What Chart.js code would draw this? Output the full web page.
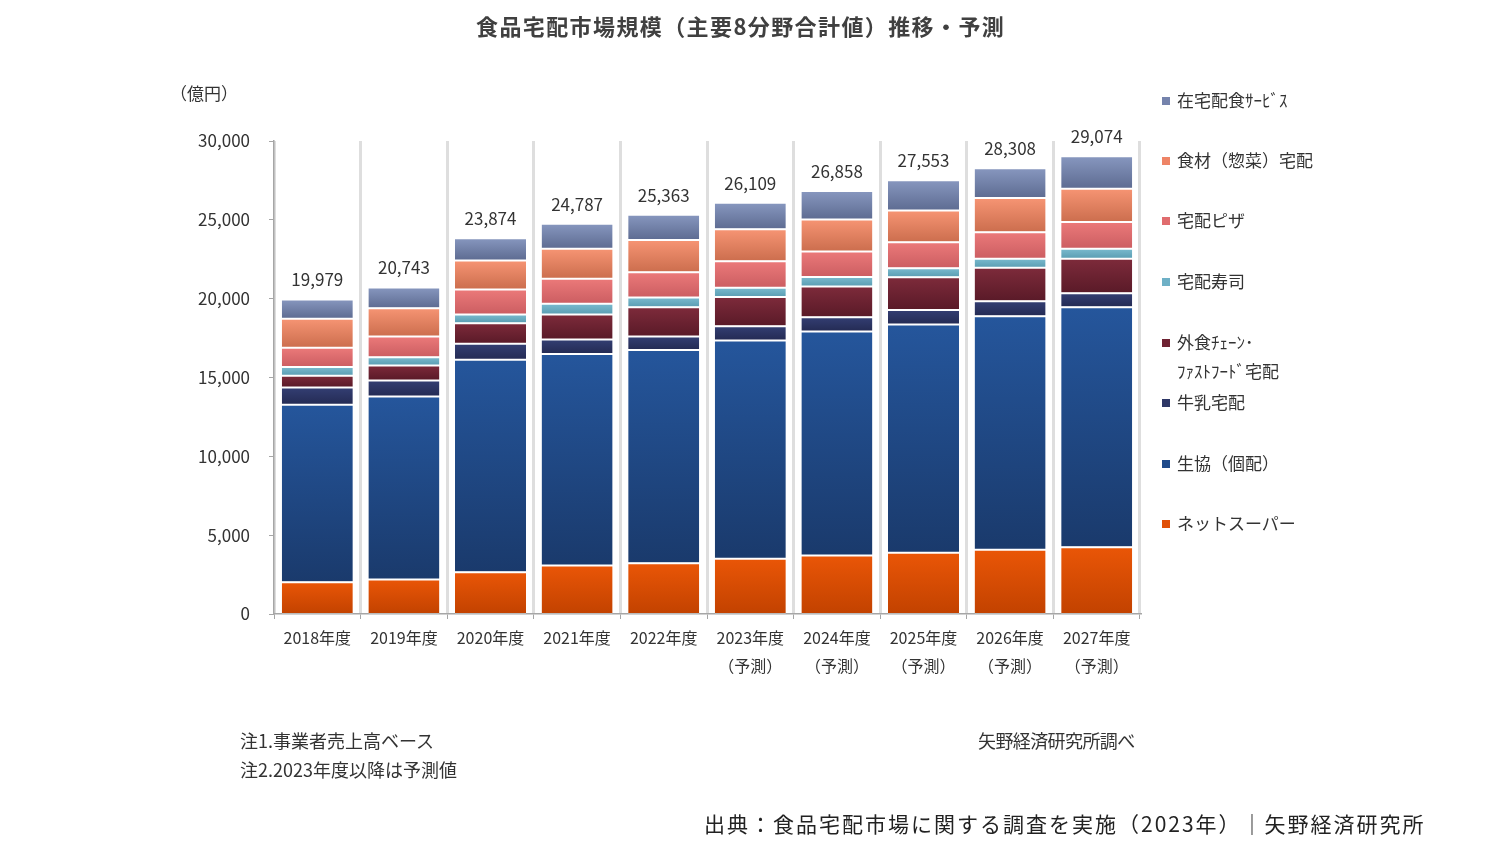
<!DOCTYPE html>
<html lang="ja">
<head>
<meta charset="utf-8">
<script src="https://cdn.jsdelivr.net/npm/chart.js@4.4.1/dist/chart.umd.min.js"></script>
<style>
  html, body { margin: 0; padding: 0; background: #ffffff; }
  body { width: 1500px; height: 846px; position: relative; overflow: hidden;
         font-family: "Noto Sans CJK JP", "Noto Sans", sans-serif; color: #333; }
  #wrap { position: absolute; left: 0; top: 0; width: 1500px; height: 846px; }
  .txt { position: absolute; white-space: nowrap; }
  #title { left: 476px; top: 9px; font-size: 22px; letter-spacing: 1.4px; font-weight: bold; color: #404040; }
  #unit { left: 170px; top: 80px; font-size: 17px; color: #333; }
  #legend { position: absolute; left: 1162px; top: 0; }
  .li { position: absolute; left: 0; font-size: 17px; color: #333; white-space: nowrap; line-height: 20px; }
  .sw { display: inline-block; width: 8px; height: 8px; margin-right: 7px; vertical-align: 2px; }
  .note { font-size: 18px; color: #333; }
  #src { left: 704px; top: 808px; font-size: 21px; letter-spacing: 2px; color: #222; }
</style>
</head>
<body>
<div id="wrap"><canvas id="c" width="1500" height="846"></canvas></div>
<div class="txt" id="title">食品宅配市場規模（主要8分野合計値）推移・予測</div>
<div class="txt" id="unit">（億円）</div>
<div id="legend"></div>
<div class="txt note" style="left:240px; top:727px;">注1.事業者売上高ベース</div>
<div class="txt note" style="left:240px; top:756px;">注2.2023年度以降は予測値</div>
<div class="txt note" style="left:978px; top:727px; letter-spacing:-0.6px;">矢野経済研究所調べ</div>
<div class="txt" id="src">出典：食品宅配市場に関する調査を実施（2023年）｜矢野経済研究所</div>
<script>
// ---- data (億円) ----
const categories = [
  ['2018年度'], ['2019年度'], ['2020年度'], ['2021年度'], ['2022年度'],
  ['2023年度', '（予測）'], ['2024年度', '（予測）'], ['2025年度', '（予測）'],
  ['2026年度', '（予測）'], ['2027年度', '（予測）']
];
const netSuper   = [2050, 2220, 2680, 3100, 3250, 3530, 3740, 3910, 4100, 4270];
const seikyo     = [11250, 11610, 13470, 13430, 13530, 13850, 14210, 14480, 14820, 15220];
const milk       = [1100, 1010, 1020, 910, 860, 910, 910, 930, 950, 890];
const gaishoku   = [740, 950, 1310, 1590, 1840, 1840, 1950, 2070, 2120, 2180];
const sushi      = [550, 530, 550, 680, 630, 600, 590, 570, 570, 640];
const pizza      = [1230, 1310, 1590, 1590, 1590, 1670, 1630, 1650, 1690, 1690];
const shokuzai   = [1840, 1800, 1840, 1900, 2050, 2030, 2030, 2010, 2160, 2120];
const zaitaku    = [1220, 1310, 1410, 1590, 1610, 1680, 1800, 1930, 1900, 2060];
const totals     = [19979, 20743, 23874, 24787, 25363, 26109, 26858, 27553, 28308, 29074];
const yTicks     = [0, 5000, 10000, 15000, 20000, 25000, 30000];

// series bottom → top
const series = [
  { label: 'ネットスーパー', data: netSuper, c1: '#EA5607', c2: '#C24200' },
  { label: '生協（個配）', data: seikyo, c1: '#25569C', c2: '#1A3A6C' },
  { label: '牛乳宅配', data: milk, c1: '#343F74', c2: '#242B54' },
  { label: '外食ﾁｪｰﾝ･\nﾌｧｽﾄﾌｰﾄﾞ宅配', data: gaishoku, c1: '#7E2B3B', c2: '#5A1A28' },
  { label: '宅配寿司', data: sushi, c1: '#7CBCD0', c2: '#5B9EB3' },
  { label: '宅配ピザ', data: pizza, c1: '#EC7A7A', c2: '#CC5E62' },
  { label: '食材（惣菜）宅配', data: shokuzai, c1: '#F79574', c2: '#CC6E4E' },
  { label: '在宅配食ｻｰﾋﾞｽ', data: zaitaku, c1: '#8898C0', c2: '#5E6C92' }
];
const legendColors = ['#E05008', '#1F4A8A', '#2E3766', '#6E2232', '#6EB0C6', '#E06C6E', '#EE8466', '#7583AC'];

const FONT = '"Noto Sans CJK JP", "Noto Sans", sans-serif';

function segGradient(ctx, si) {
  const chart = ctx.chart;
  const area = chart.chartArea;
  const s = series[si];
  if (!area || ctx.type !== 'data') return s.c1;
  const i = ctx.dataIndex;
  let start = 0;
  for (let k = 0; k < si; k++) start += series[k].data[i];
  const end = start + s.data[i];
  const y = chart.scales.y;
  const yTop = y.getPixelForValue(end), yBot = y.getPixelForValue(start);
  if (!isFinite(yTop) || !isFinite(yBot) || yTop === yBot) return s.c1;
  const g = chart.ctx.createLinearGradient(0, yTop, 0, yBot);
  g.addColorStop(0, s.c1);
  g.addColorStop(1, s.c2);
  return g;
}

const totalLabels = {
  id: 'totalLabels',
  afterDatasetsDraw(chart) {
    const meta = chart.getDatasetMeta(series.length - 1);
    const ctx = chart.ctx;
    ctx.save();
    ctx.font = '17px ' + FONT;
    ctx.fillStyle = '#333';
    ctx.textAlign = 'center';
    ctx.textBaseline = 'middle';
    meta.data.forEach((bar, i) => {
      ctx.fillText(totals[i].toLocaleString('en-US'), bar.x, bar.y - 19);
    });
    ctx.restore();
  }
};

const chart = new Chart(document.getElementById('c'), {
  type: 'bar',
  data: {
    labels: categories,
    datasets: series.map((s, si) => ({
      label: s.label,
      data: s.data,
      backgroundColor: (ctx) => segGradient(ctx, si),
      borderColor: 'rgba(255,255,255,0.9)',
      borderWidth: { top: 1.5, bottom: 0.5, left: 0, right: 0 },
      borderSkipped: false,
      barPercentage: 0.82,
      categoryPercentage: 1.0
    }))
  },
  options: {
    responsive: false,
    animation: false,
    layout: { padding: { left: 170, right: 360, top: 141, bottom: 162 } },
    plugins: { legend: { display: false }, tooltip: { enabled: false } },
    scales: {
      x: {
        stacked: true,
        offset: true,
        border: { display: true, color: '#A6A6A6', width: 1.5 },
        grid: { display: true, offset: true, drawOnChartArea: true, drawTicks: true, tickLength: 5,
                color: '#DEDEDE', lineWidth: 3, tickColor: '#A6A6A6', tickWidth: 1 },
        ticks: { color: '#333', font: { family: FONT, size: 16, lineHeight: 1.75 }, padding: 5, maxRotation: 0, autoSkip: false },
        afterFit(scale) { scale.height = 70; }
      },
      y: {
        stacked: true,
        min: 0, max: 30000,
        afterBuildTicks(scale) { scale.ticks = yTicks.map(v => ({ value: v })); },
        border: { display: true, color: '#A6A6A6', width: 1.5 },
        grid: { drawOnChartArea: false, drawTicks: true, tickLength: 5, tickColor: '#A6A6A6' },
        ticks: { color: '#333', font: { family: FONT, size: 17 }, padding: 19,
                 callback: (v) => Number(v).toLocaleString('en-US') },
        afterFit(scale) { scale.width = 104; }
      }
    }
  },
  plugins: [totalLabels]
});

// HTML legend (top → bottom order as in reference)
const legendTops = [90, 150, 210, 271, 332, 392, 453, 513];
const legend = document.getElementById('legend');
const order = [7, 6, 5, 4, 3, 2, 1, 0];
order.forEach((si, k) => {
  const s = series[si];
  const lines = s.label.split('\n');
  const d = document.createElement('div');
  d.className = 'li';
  d.style.top = legendTops[k] + 'px';
  let html = '<span class="sw" style="background:' + legendColors[si] + '"></span>' + lines[0];
  if (lines.length > 1) html += '<br><span style="display:inline-block;margin-top:9px;margin-left:15px;">' + lines[1] + '</span>';
  d.innerHTML = html;
  legend.appendChild(d);
});
</script>
</body>
</html>
